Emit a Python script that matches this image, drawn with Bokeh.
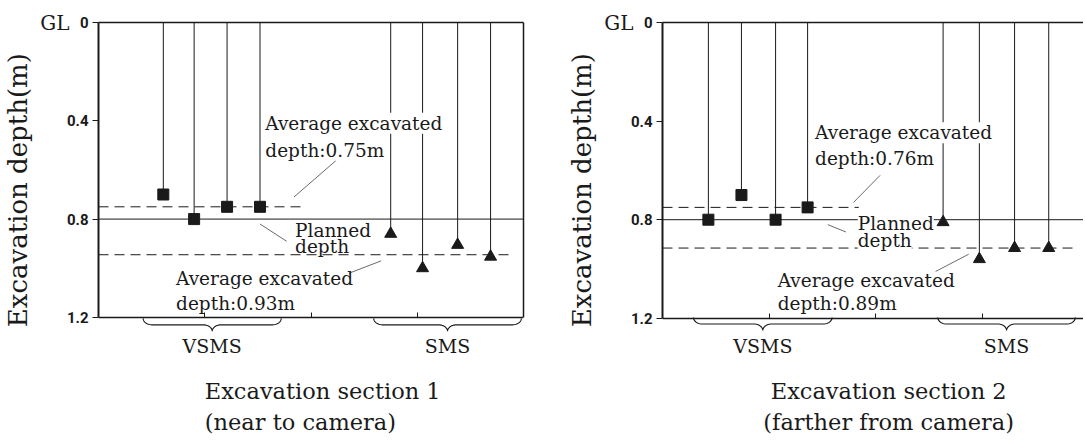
import numpy as np
from bokeh.plotting import figure
from bokeh.models import Range1d, FixedTicker, Label, LinearAxis
from bokeh.layouts import row
from bokeh.embed import file_html
from bokeh.resources import INLINE

# ---------------- data ----------------
depth_ticks = [0, 0.4, 0.8, 1.2]
planned_depth = 0.8
group_names = ["VSMS", "SMS"]

# Section 1 (near to camera)
s1_vsms_x = [0.61, 0.90, 1.21, 1.52]
s1_vsms_depth = [0.70, 0.80, 0.75, 0.75]
s1_sms_x = [2.75, 3.05, 3.38, 3.69]
s1_sms_depth = [0.86, 1.00, 0.905, 0.953]
s1_avg_labels = ["0.75m", "0.93m"]
s1_avg_lines = [0.75, 0.945]
s1_group_span = [(0.42, 1.72), (2.59, 3.98)]

# Section 2 (farther from camera)
s2_vsms_x = [0.43, 0.74, 1.06, 1.36]
s2_vsms_depth = [0.80, 0.70, 0.80, 0.75]
s2_sms_x = [2.63, 2.97, 3.30, 3.62]
s2_sms_depth = [0.81, 0.96, 0.915, 0.915]
s2_avg_labels = ["0.76m", "0.89m"]
s2_avg_lines = [0.75, 0.915]
s2_group_span = [(0.29, 1.59), (2.58, 3.87)]

titles = [["Excavation section 1", "(near to camera)"],
          ["Excavation section 2", "(farther from camera)"]]
y_title = "Excavation depth(m)"

SERIF = "DejaVu Serif"
INK = "#1a1a1a"
FIG_H = 440


def brace_path(x0, x1, top, h, r):
    xm = (x0 + x1) / 2.0
    t = np.linspace(0, np.pi / 2, 12)
    ax = x0 + r * (1 - np.cos(t)); ay = top + (h / 2) * np.sin(t)
    bx = xm - r + r * np.sin(t); by = top + h / 2 + (h / 2) * (1 - np.cos(t))
    lx = np.concatenate([ax, bx]); ly = np.concatenate([ay, by])
    rx = (2 * xm - lx)[::-1]; ry = ly[::-1]
    return list(np.concatenate([lx, rx])), list(np.concatenate([ly, ry]))


def make_panel(vx, vd, sx, sd, avg_labels, avg_lines, spans, title_lines,
               width, xmax, left_border, right_border, top_border, px_per_unit, boxed,
               texts, leaders, dash_ends, title_x, title_align):
    y_end = (FIG_H - top_border) / px_per_unit
    yv = lambda py: (py - top_border) / px_per_unit

    p = figure(width=width, height=FIG_H, x_range=Range1d(0, xmax), y_range=Range1d(y_end, 0),
               output_backend="svg", toolbar_location=None,
               min_border_left=left_border, min_border_right=right_border,
               min_border_top=top_border, min_border_bottom=0)
    p.grid.visible = False
    p.outline_line_color = None
    p.background_fill_color = "white"
    p.border_fill_color = "white"

    # main depth axis
    ya = p.yaxis[0]
    ya.bounds = (0, 1.2)
    ya.ticker = FixedTicker(ticks=depth_ticks)
    ya.major_label_overrides = {0: "0", 0.4: "0.4", 0.8: "0.8", 1.2: "1.2"}
    ya.major_label_text_font = "Roboto"
    ya.major_label_text_font_style = "bold"
    ya.major_label_text_font_size = "15px"
    ya.major_label_text_color = INK
    ya.major_tick_out = 6
    ya.major_tick_in = 0
    ya.minor_tick_out = 0
    ya.minor_tick_in = 0
    ya.major_label_standoff = 4
    ya.axis_line_width = 2
    ya.axis_line_color = INK
    ya.major_tick_line_color = INK

    # bottom line axis, drawn at depth 1.2
    xa = p.xaxis[0]
    xa.fixed_location = 1.2
    xa.ticker = FixedTicker(ticks=[1, 2, 3])
    xa.major_label_overrides = {1: "", 2: "", 3: ""}
    xa.major_label_text_font_size = "0px"
    xa.major_label_standoff = 0
    xa.major_tick_in = 5
    xa.major_tick_out = 0
    xa.minor_tick_in = 0
    xa.minor_tick_out = 0
    xa.axis_line_width = 1.5
    xa.axis_line_color = INK
    xa.major_tick_line_color = INK

    # outer axis carrying "GL" and the axis title
    pad = "\u00a0" * 10
    gl_ax = LinearAxis(ticker=FixedTicker(ticks=[0]), major_label_overrides={0: "GL"},
                       axis_line_color=None, major_tick_line_color=None,
                       minor_tick_line_color=None, major_label_standoff=-12,
                       major_label_text_font=SERIF, major_label_text_font_size="20px",
                       major_label_text_color=INK,
                       axis_label=pad + y_title, axis_label_text_font=SERIF,
                       axis_label_text_font_style="normal", axis_label_text_font_size="26px",
                       axis_label_text_color=INK, axis_label_standoff=4)
    p.add_layout(gl_ax, "left")

    top_ax = LinearAxis(ticker=FixedTicker(ticks=[]), major_tick_in=0, major_tick_out=0,
                        minor_tick_in=0, minor_tick_out=0, major_label_text_font_size="0px",
                        axis_line_color=INK, axis_line_width=1.6)
    p.add_layout(top_ax, "above")
    if boxed:
        r_ax = LinearAxis(ticker=FixedTicker(ticks=[]), bounds=(0, 1.2), major_tick_in=0,
                          major_tick_out=0, minor_tick_in=0, minor_tick_out=0,
                          major_label_text_font_size="0px", axis_line_color=INK, axis_line_width=1.5)
        p.add_layout(r_ax, "right")

    # planned depth (box width)
    p.segment(x0=[0], y0=[planned_depth], x1=[xmax], y1=[planned_depth], line_color=INK, line_width=1)
    # average dashed lines
    for lvl, xe in zip(avg_lines, dash_ends):
        p.segment(x0=[0], y0=[lvl], x1=[xe], y1=[lvl], line_color=INK, line_width=1, line_dash="10 6")
    # stems + markers
    allx = vx + sx
    alld = vd + sd
    p.segment(x0=allx, y0=[0] * len(allx), x1=allx, y1=alld, line_color=INK, line_width=1)
    p.scatter(vx, vd, marker="square", size=11, color=INK)
    p.scatter(sx, sd, marker="triangle", size=12, color=INK)
    # leader lines
    for (x0, y0, x1, y1) in leaders:
        p.segment(x0=[x0], y0=[y0], x1=[x1], y1=[y1], line_color="#444", line_width=0.8)
    # annotation texts
    for (tx, ty, txt, bg) in texts:
        p.add_layout(Label(x=tx, y=ty, text=txt, text_font=SERIF, text_font_size="18.5px",
                           text_color=INK, text_baseline="middle", text_align="left",
                           background_fill_color="white" if bg else None))

    # braces and group names
    r_units = 9.0 / (width - left_border - right_border) * xmax
    for (a, b), name in zip(spans, group_names):
        bx, by = brace_path(a, b, yv(317), 13.0 / px_per_unit, r_units)
        p.line(bx, by, line_color=INK, line_width=1.1)
        p.add_layout(Label(x=(a + b) / 2, y=yv(345), text=name, text_font=SERIF, text_font_size="19px",
                           text_color=INK, text_baseline="middle", text_align="center"))
    # caption
    for i, line in enumerate(title_lines):
        p.add_layout(Label(x=title_x, y=yv(390 + 31 * i), text=line, text_font=SERIF, text_font_size="22.5px",
                           text_color=INK, text_baseline="middle", text_align=title_align))
    return p


left = make_panel(
    s1_vsms_x, s1_vsms_depth, s1_sms_x, s1_sms_depth, s1_avg_labels, s1_avg_lines, s1_group_span, titles[0],
    width=545, xmax=4.0, left_border=95, right_border=22, top_border=19, px_per_unit=247.5, boxed=True,
    texts=[(1.57, 0.41, "Average excavated", True), (1.57, 0.52, "depth:" + s1_avg_labels[0], True),
           (1.85, 0.845, "Planned", False), (1.85, 0.913, "depth", False),
           (0.73, 1.042, "Average excavated", False), (0.73, 1.143, "depth:" + s1_avg_labels[1], False)],
    leaders=[(2.24, 0.56, 1.84, 0.71), (1.52, 0.82, 1.77, 0.89), (2.36, 1.02, 2.66, 0.97)],
    dash_ends=[1.91, 3.87], title_x=1.00, title_align="left")

right = make_panel(
    s2_vsms_x, s2_vsms_depth, s2_sms_x, s2_sms_depth, s2_avg_labels, s2_avg_lines, s2_group_span, titles[1],
    width=538, xmax=3.946, left_border=117, right_border=0, top_border=22, px_per_unit=246.5, boxed=False,
    texts=[(1.43, 0.447, "Average excavated", True), (1.43, 0.553, "depth:" + s2_avg_labels[0], True),
           (1.83, 0.817, "Planned", True), (1.83, 0.886, "depth", True),
           (1.08, 1.048, "Average excavated", False), (1.08, 1.141, "depth:" + s2_avg_labels[1], False)],
    leaders=[(2.04, 0.62, 1.79, 0.73), (1.55, 0.82, 1.72, 0.85), (2.56, 1.01, 2.87, 0.94)],
    dash_ends=[1.84, 3.87], title_x=2.12, title_align="center")

layout = row(left, right)
open("out.html", "w").write(file_html(layout, INLINE))
